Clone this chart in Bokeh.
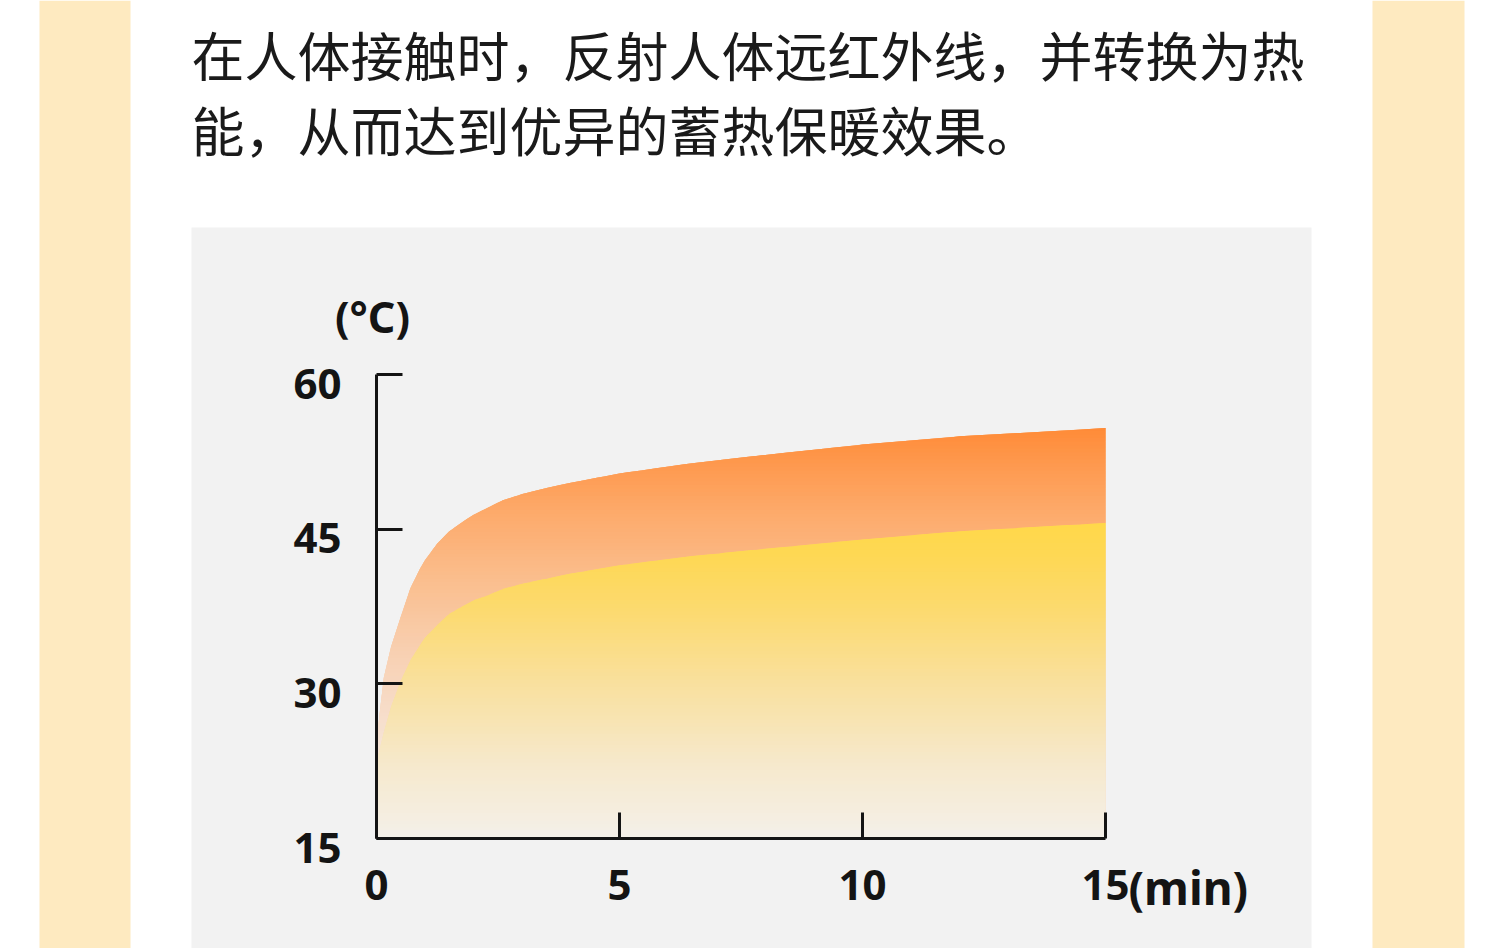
import numpy as np
from bokeh.plotting import figure
from bokeh.models import (Range1d, FixedTicker, BoxAnnotation, Label,
                          LinearAxis)
from bokeh.embed import file_html
from bokeh.resources import INLINE

# ---- data -------------------------------------------------------------
# minutes after skin contact
time_min = [0, 0.05, 0.15, 0.3, 0.5, 0.7, 0.9, 1.0, 1.25, 1.5, 1.8, 2.0,
            2.3, 2.6, 3.0, 3.5, 4.0, 5.0, 6.5, 8.0, 10.0, 12.0, 15.0]
# upper (orange) band: heat-storing layer temperature, °C
heat_layer_c = [24.0, 26.5, 30.6, 33.6, 36.5, 39.3, 41.2, 42.0, 43.6, 44.8,
                45.8, 46.4, 47.1, 47.8, 48.4, 49.0, 49.5, 50.4, 51.4, 52.2,
                53.2, 54.0, 54.8]
# lower (yellow) band: base layer temperature, °C
base_layer_c = [22.5, 23.4, 25.3, 27.8, 30.3, 32.3, 33.8, 34.5, 35.7, 36.8,
                37.6, 38.1, 38.6, 39.2, 39.7, 40.2, 40.7, 41.5, 42.4, 43.1,
                44.0, 44.8, 45.6]

x_ticks = [0, 5, 10, 15]
y_ticks = [15, 30, 45, 60]
x_unit = "(min)"
y_unit = "(°C)"
intro_lines = ["在人体接触时，反射人体远红外线，并转换为热",
               "能，从而达到优异的蓄热保暖效果。"]

# ---- page geometry -----------------------------------------------------
W, H = 1500, 948
FL, FR, FT, FB = 376, 1105, 374, 838     # where the axes box sits, pixels
X0, X1 = x_ticks[0], x_ticks[-1]
Y0, Y1 = y_ticks[0], y_ticks[-1]


def px_x(px):
    return X0 + (px - FL) / (FR - FL) * (X1 - X0)


def px_y(py):
    return Y0 + (FB - py) / (FB - FT) * (Y1 - Y0)


INK = "#141414"
BOLD_FONT = "Noto Sans"
CJK_FONT = "Noto Sans CJK SC"
CARD = "#F2F2F2"
STRIP = "#FEEAC0"

# the plot frame spans the whole page; the axes are pinned inside it
p = figure(width=W, height=H,
           x_range=Range1d(px_x(0), px_x(W)), y_range=Range1d(px_y(H), px_y(0)),
           output_backend="svg", toolbar_location=None,
           x_axis_location=None, y_axis_location=None,
           min_border_left=0, min_border_right=0,
           min_border_top=0, min_border_bottom=0,
           background_fill_color="white", border_fill_color="white",
           outline_line_color=None)
p.grid.visible = False

# ---- page decoration: side strips and grey chart card -----------------
for left, right, top, color in [(39, 130, 0, STRIP), (1372, 1464, 0, STRIP),
                                (191, 1311, 227, CARD)]:
    p.add_layout(BoxAnnotation(left=px_x(left), right=px_x(right),
                               top=px_y(top), bottom=px_y(H),
                               fill_color=color, fill_alpha=1.0,
                               line_alpha=0.0, level="underlay"))

# ---- gradient-filled bands -------------------------------------------
x = np.asarray(time_min, float)
up = np.asarray(heat_layer_c, float)
lo = np.asarray(base_layer_c, float)

step = 0.35
levels = np.arange(Y0, Y1 + step, step)


def crossings(xs, ys, lv):
    """x positions where the polyline (xs, ys) crosses any of the levels."""
    out = []
    for i in range(len(xs) - 1):
        y0, y1 = ys[i], ys[i + 1]
        if y0 == y1:
            continue
        a, b = min(y0, y1), max(y0, y1)
        for l in lv[(lv > a) & (lv < b)]:
            t = (l - y0) / (y1 - y0)
            out.append(xs[i] + t * (xs[i + 1] - xs[i]))
    return out


xb = np.unique(np.concatenate([x, crossings(x, up, levels),
                               crossings(x, lo, levels)]))
U = np.interp(xb, x, up)
L = np.interp(xb, x, lo)


def ramp(v, stops):
    ys = [s[0] for s in stops]
    rgb = [np.interp(v, ys, [s[1][c] for s in stops]) for c in range(3)]
    return "#%02x%02x%02x" % tuple(int(round(c)) for c in rgb)


orange_stops = [(24, (246, 228, 214)), (33, (248, 208, 178)),
                (40, (250, 190, 142)), (46, (253, 172, 110)),
                (51, (254, 154, 80)), (55, (255, 138, 54))]
yellow_stops = [(15, (244, 240, 233)), (22, (246, 233, 205)),
                (30, (249, 224, 158)), (37, (252, 218, 112)),
                (42, (254, 216, 86)), (46, (255, 216, 72))]

# soft underlay so that band joins never show the card colour
p.varea(x=time_min, y1=Y0, y2=heat_layer_c, fill_color=ramp(36, orange_stops),
        fill_alpha=1.0)

n = len(levels)
for k in range(n - 1):
    a = levels[k]
    b = levels[min(k + 2, n - 1)]          # overlap the next band to hide seams
    mid = a + step / 2
    y1o = np.clip(L, a, b)
    y2o = np.clip(U, a, b)
    if np.any(y2o - y1o > 1e-9):
        p.varea(x=xb, y1=y1o, y2=y2o, fill_color=ramp(mid, orange_stops),
                fill_alpha=1.0)
    y2y = np.clip(L, a, b)
    if np.any(y2y - a > 1e-9):
        p.varea(x=xb, y1=np.full_like(xb, a), y2=y2y,
                fill_color=ramp(mid, yellow_stops), fill_alpha=1.0)

# ---- axes --------------------------------------------------------------
# tick labels on the temperature axis sit a little below their ticks
p.extra_y_ranges = {"ylabels": Range1d(px_y(H - 9), px_y(-9))}


def style_axis(ax):
    ax.axis_line_width = 3
    ax.axis_line_color = INK
    ax.major_tick_line_width = 3
    ax.major_tick_line_color = INK
    ax.major_tick_in = 26
    ax.major_tick_out = 0
    ax.minor_tick_in = 0
    ax.minor_tick_out = 0
    ax.major_label_text_font = BOLD_FONT
    ax.major_label_text_font_style = "bold"
    ax.major_label_text_font_size = "42px"
    ax.major_label_text_color = INK


xaxis = LinearAxis(ticker=FixedTicker(ticks=x_ticks), fixed_location=Y0,
                   bounds=(X0, X1), major_label_standoff=31)
style_axis(xaxis)
p.add_layout(xaxis, "below")

yaxis = LinearAxis(ticker=FixedTicker(ticks=y_ticks), fixed_location=X0,
                   bounds=(Y0, Y1),
                   major_label_overrides={t: "" for t in y_ticks})
style_axis(yaxis)
p.add_layout(yaxis, "left")

ylabels = LinearAxis(ticker=FixedTicker(ticks=y_ticks), fixed_location=X0,
                     y_range_name="ylabels", bounds=(Y0, Y1),
                     major_label_standoff=35)
style_axis(ylabels)
ylabels.axis_line_color = None
ylabels.major_tick_line_color = None
p.add_layout(ylabels, "left")

# unit labels
p.add_layout(Label(x=X1, y=Y0, x_offset=23, y_offset=-(886 - FB), text=x_unit,
                   text_font=BOLD_FONT, text_font_style="bold",
                   text_font_size="46px", text_color=INK,
                   text_align="left", text_baseline="middle"))
p.add_layout(Label(x=X0, y=Y1, x_offset=-4, y_offset=FT - 316, text=y_unit,
                   text_font=BOLD_FONT, text_font_style="bold",
                   text_font_size="43px", text_color=INK,
                   text_align="center", text_baseline="middle"))

# intro text above the chart card
for line, cy in zip(intro_lines, (53, 128)):
    p.add_layout(Label(x=X0, y=Y1, x_offset=191 - FL, y_offset=FT - cy,
                       text=line, text_font=CJK_FONT, text_font_size="53px",
                       text_color="#1a1a1a", text_align="left",
                       text_baseline="middle"))

open("out.html", "w").write(file_html(p, INLINE))
